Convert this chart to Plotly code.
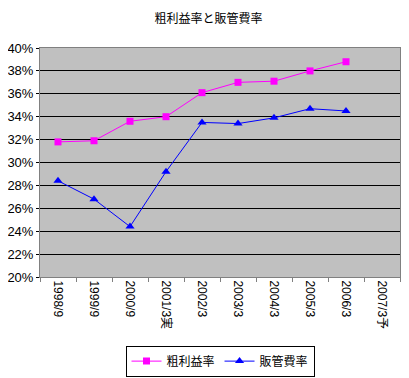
import plotly.graph_objects as go

categories = ["1998/9", "1999/9", "2000/9", "2001/3実", "2002/3", "2003/3", "2004/3", "2005/3", "2006/3", "2007/3予"]
gross_margin = [31.8, 31.9, 33.6, 34.0, 36.1, 37.0, 37.1, 38.0, 38.8, None]
sga_ratio = [28.4, 26.8, 24.4, 29.2, 33.5, 33.4, 33.9, 34.7, 34.5, None]
y_ticks = list(range(20, 41, 2))
y_tick_text = [f"{v}%" for v in y_ticks]

fig = go.Figure()
fig.add_trace(go.Scatter(
    x=categories, y=gross_margin, name="粗利益率", mode="lines+markers",
    line=dict(color="#FF00FF", width=1),
    marker=dict(symbol="square", size=7, color="#FF00FF"),
))
fig.add_trace(go.Scatter(
    x=categories, y=sga_ratio, name="販管費率", mode="lines+markers",
    line=dict(color="#0000FF", width=1),
    marker=dict(symbol="triangle-up", size=8, color="#0000FF"),
))

fig.update_layout(
    width=401, height=370,
    margin=dict(l=32, r=9, t=40, b=101, autoexpand=False),
    paper_bgcolor="white", plot_bgcolor="#C0C0C0",
    font=dict(family="Liberation Sans, Arial, sans-serif", size=12, color="black"),
    title=dict(text="粗利益率と販管費率", x=0.5, xanchor="center", y=0.982, yanchor="top",
               pad=dict(t=0, b=0),
               font=dict(family="Noto Sans CJK JP", size=12, color="black")),
    showlegend=True,
    legend=dict(orientation="h", x=0.5, xanchor="center", y=-0.435, yanchor="bottom",
                bordercolor="black", borderwidth=1, bgcolor="white",
                font=dict(family="Noto Sans CJK JP", size=12)),
)
fig.update_xaxes(
    type="category", range=[-0.5, 9.5], tickangle=90, automargin=False,
    tickson="boundaries", ticks="outside", ticklen=4, tickcolor="#808080",
    showgrid=False, showline=True, linecolor="#808080", linewidth=1, mirror=True,
    tickfont=dict(family="Liberation Sans, Noto Sans CJK JP", size=12),
)
fig.update_yaxes(
    range=[20, 40], tickvals=y_ticks, ticktext=y_tick_text, automargin=False,
    showgrid=True, gridcolor="black", gridwidth=1,
    ticks="outside", ticklen=3, tickcolor="black",
    showline=True, linecolor="#808080", linewidth=1, mirror=True, zeroline=False,
    tickfont=dict(size=13),
)

fig.write_html("out.html")
